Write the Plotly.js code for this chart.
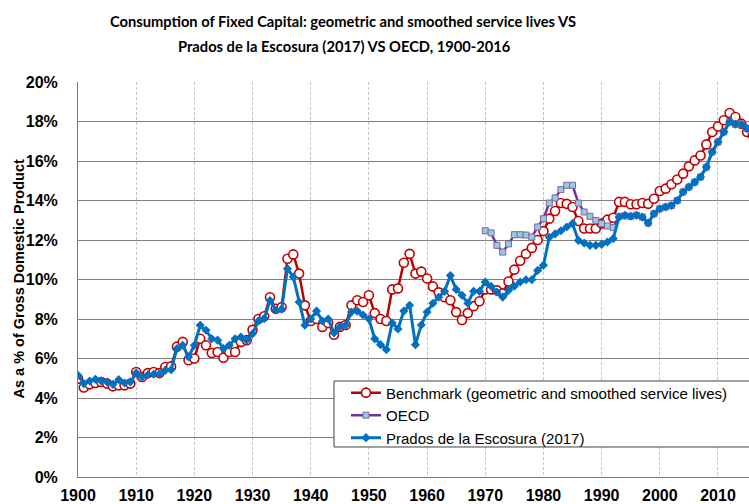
<!DOCTYPE html>
<html>
<head>
<meta charset="utf-8">
<script src="https://cdn.plot.ly/plotly-3.0.1.min.js"></script>
<style>html,body{margin:0;padding:0;background:#fff;}#chart{width:749px;height:504px;}</style>
</head>
<body>
<div id="chart"></div>
<script>
const years = [];
for (let y = 1900; y <= 2016; y++) years.push(y);
const oecdYears = [];
for (let y = 1970; y <= 2016; y++) oecdYears.push(y);

// Benchmark (geometric and smoothed service lives), % of GDP, 1900-2016
const benchmark = [
 4.98,4.53,4.69,4.76,4.81,4.73,4.59,4.64,4.64,4.73,
 5.32,5.06,5.26,5.32,5.26,5.57,5.60,6.60,6.84,5.91,
 6.00,7.00,6.67,6.28,6.33,6.04,6.33,6.33,6.84,6.93,
 7.45,8.00,8.14,9.10,8.52,8.60,11.05,11.27,10.30,8.69,
 7.90,8.00,7.60,7.80,7.20,7.60,7.70,8.69,8.95,8.86,
 9.20,8.30,8.00,7.90,9.50,9.55,10.85,11.30,10.30,10.40,
 10.05,9.65,9.35,9.10,8.95,8.35,7.95,8.30,8.65,8.90,
 9.50,9.50,9.45,9.30,9.90,10.50,10.95,11.30,11.60,12.00,
 12.45,13.08,13.47,13.87,13.83,13.67,12.96,12.58,12.58,12.58,
 12.83,13.03,13.13,13.93,13.93,13.81,13.81,13.87,13.83,14.09,
 14.48,14.60,14.82,15.06,15.36,15.73,16.03,16.28,16.84,17.47,
 17.75,18.06,18.43,18.23,17.89,17.47,17.30
];

// OECD, % of GDP, 1970-2016
const oecd = [
 12.47,12.36,11.73,11.39,11.80,12.27,12.27,12.25,12.15,12.66,
 13.08,13.87,14.13,14.55,14.77,14.77,13.87,13.42,13.20,12.99,
 12.83,12.71,12.63,13.20,13.22,13.20,13.25,13.16,12.86,13.33,
 13.58,13.67,13.75,14.00,14.43,14.68,14.93,15.19,15.69,16.46,
 16.96,17.47,17.98,17.86,17.86,17.64,17.40
];

// Prados de la Escosura (2017), % of GDP, 1900-2016
const prados = [
 5.15,4.73,4.86,4.95,4.86,4.81,4.69,4.93,4.76,4.81,
 5.27,5.06,5.18,5.20,5.23,5.40,5.43,6.50,6.67,6.08,
 6.67,7.68,7.43,7.00,6.93,6.50,6.67,7.00,7.09,6.93,
 7.25,7.90,8.02,8.94,8.44,8.50,10.55,10.13,8.86,7.68,
 8.00,8.40,7.90,8.00,7.30,7.60,7.70,8.35,8.40,8.20,
 8.00,7.00,6.70,6.45,7.80,7.50,8.40,8.70,6.70,7.70,
 8.35,8.80,9.10,9.40,10.20,9.50,9.20,8.80,9.40,9.40,
 9.87,9.66,9.37,9.11,9.45,9.66,9.87,9.99,9.99,10.46,
 10.72,12.14,12.31,12.47,12.66,12.83,11.98,11.85,11.73,11.73,
 11.78,11.90,12.07,13.16,13.25,13.20,13.25,13.16,12.86,13.33,
 13.58,13.67,13.75,14.00,14.43,14.68,14.93,15.19,15.69,16.46,
 16.96,17.47,17.98,17.86,17.86,17.64,17.40
];

const names = [
 'Benchmark (geometric and smoothed service lives)',
 'OECD',
 'Prados de la Escosura (2017)'
];
const titleLine1 = 'Consumption of Fixed Capital: geometric and smoothed service lives VS';
const titleLine2 = 'Prados de la Escosura (2017) VS OECD, 1900-2016';
const yTitle = 'As a % of Gross Domestic Product';

const traces = [
 {x: years, y: benchmark, name: names[0], type: 'scatter', mode: 'lines+markers',
  line: {color: '#c00000', width: 2.5},
  marker: {symbol: 'circle', size: 9, color: '#ffffff', line: {color: '#c00000', width: 1.6}}},
 {x: oecdYears, y: oecd, name: names[1], type: 'scatter', mode: 'lines+markers',
  line: {color: '#7030a0', width: 2.5},
  marker: {symbol: 'square', size: 6, color: '#93cddd', line: {color: '#8064a2', width: 1}}},
 {x: years, y: prados, name: names[2], type: 'scatter', mode: 'lines+markers',
  line: {color: '#0070c0', width: 3},
  marker: {symbol: 'diamond', size: 7, color: '#0070c0', line: {width: 0}}}
];

const arial = 'Liberation Sans, Arial, sans-serif';
const tickFont = {family: arial, size: 16, color: '#000', weight: 'bold'};
const titleFont = {family: 'Lato, sans-serif', size: 14.7, weight: 'bold', color: '#000'};

const layout = {
 width: 749, height: 504,
 margin: {l: 78, r: 0, t: 82, b: 27, pad: 0},
 paper_bgcolor: '#ffffff', plot_bgcolor: '#ffffff',
 title: {text: titleLine1, font: titleFont,
   xref: 'container', x: 343 / 749, xanchor: 'center', yref: 'container', y: 1 - 22 / 504, yanchor: 'middle'},
 showlegend: true,
 legend: {x: 0.3994, xanchor: 'left', y: 0.2547, yanchor: 'top', bgcolor: 'rgba(0,0,0,0)', borderwidth: 0,
   font: {family: arial, size: 15, color: '#000'}},
 xaxis: {range: [1900, 2015.33], dtick: 10, tick0: 1900, tickmode: 'linear', showgrid: true,
   gridcolor: '#c4c4c4', griddash: '3px,2px', gridwidth: 1, showline: true, linecolor: '#7a7a7a', linewidth: 1,
   ticks: '', tickfont: tickFont, zeroline: false, ticklabelstandoff: 4},
 yaxis: {range: [0, 20], dtick: 2, tick0: 0, tickmode: 'linear', ticksuffix: '%', showgrid: true,
   gridcolor: '#808080', gridwidth: 1, showline: true, linecolor: '#7a7a7a', linewidth: 1,
   ticks: '', tickfont: tickFont, zeroline: false, ticklabelstandoff: 16},
 annotations: [
  {text: titleLine2, font: titleFont, xref: 'paper', yref: 'paper', x: (344 - 78) / 671, y: (477 - 46) / 395,
   xanchor: 'center', yanchor: 'middle', showarrow: false},
  {text: yTitle, font: {family: arial, size: 14.5, weight: 'bold', color: '#000'}, textangle: -90,
   xref: 'paper', yref: 'paper', x: (18 - 78) / 671, y: 0.5, xanchor: 'center', yanchor: 'middle', showarrow: false}
 ],
 shapes: [{type: 'rect', xref: 'paper', yref: 'paper', x0: 0.3815, x1: 1.05, y0: 0.076, y1: 0.243,
   line: {color: '#404040', width: 1}, fillcolor: '#ffffff', layer: 'above'}]
};

Plotly.newPlot('chart', traces, layout, {displayModeBar: false, staticPlot: true});
</script>
</body>
</html>
